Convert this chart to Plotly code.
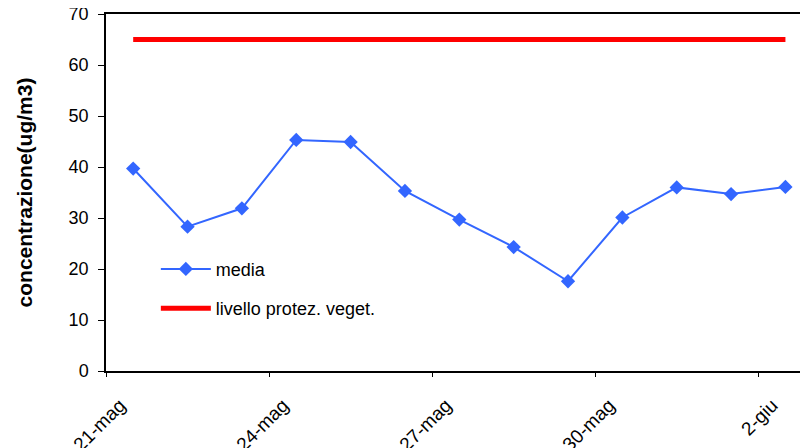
import plotly.graph_objects as go

dates = ["2010-05-21 12:00", "2010-05-22 12:00", "2010-05-23 12:00", "2010-05-24 12:00",
         "2010-05-25 12:00", "2010-05-26 12:00", "2010-05-27 12:00", "2010-05-28 12:00",
         "2010-05-29 12:00", "2010-05-30 12:00", "2010-05-31 12:00", "2010-06-01 12:00",
         "2010-06-02 12:00"]
media = [39.7, 28.3, 31.9, 45.3, 44.9, 35.3, 29.7, 24.3, 17.6, 30.1, 36.0, 34.7, 36.1]
livello = [65] * 13

tick_vals = ["2010-05-21", "2010-05-24", "2010-05-27", "2010-05-30", "2010-06-02"]
tick_text = ["21-mag", "24-mag", "27-mag", "30-mag", "2-giu"]

FONT = "Liberation Sans, Arial, sans-serif"

fig = go.Figure()
fig.add_trace(go.Scatter(
    x=dates, y=media, name="media", mode="lines+markers",
    line=dict(color="#3366FF", width=2),
    marker=dict(symbol="diamond", size=11, color="#3366FF"),
    legendgroup="a",
))
fig.add_trace(go.Scatter(
    x=dates, y=livello, name="livello protez. veget.", mode="lines",
    line=dict(color="#FF0000", width=5),
    legendgroup="b",
))

fig.update_layout(
    width=808, height=448,
    margin=dict(l=98, r=8, t=6, b=85),
    plot_bgcolor="white", paper_bgcolor="white",
    font=dict(family=FONT, size=18, color="black"),
    showlegend=True,
    legend=dict(x=0.071, y=0.337, xanchor="left", yanchor="top",
                bgcolor="rgba(0,0,0,0)", font=dict(size=18),
                tracegroupgap=13, itemwidth=50),
    xaxis=dict(
        type="date", automargin=False,
        range=["2010-05-21 00:00", "2010-06-02 21:58"],
        tickvals=tick_vals, ticktext=tick_text, tickangle=-45,
        tickfont=dict(size=19),
        showgrid=False, zeroline=False,
        showline=True, linecolor="black", linewidth=1.5, mirror=True,
        ticks="outside", ticklen=4, tickcolor="black",
        ticklabelshift=14, ticklabelstandoff=10,
        ticklabeloverflow="allow",
    ),
    yaxis=dict(
        automargin=False,
        range=[0, 70], dtick=10,
        tickfont=dict(size=18),
        showgrid=False, zeroline=False,
        showline=True, linecolor="black", linewidth=1.5,
        ticks="outside", ticklen=6, tickcolor="black",
        ticklabelstandoff=6, ticklabeloverflow="allow",
        title=dict(text="<b>concentrazione(ug/m3)</b>", font=dict(size=21), standoff=30),
    ),
)

fig.write_html("out.html")
